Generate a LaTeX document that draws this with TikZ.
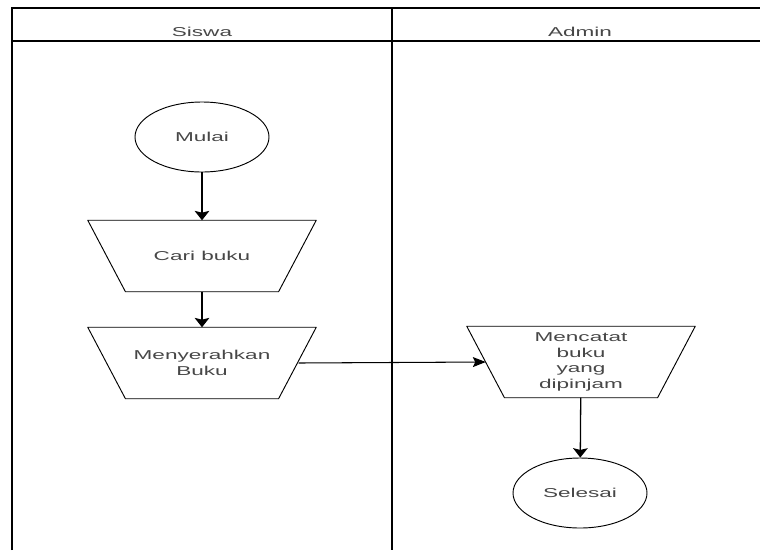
\documentclass[tikz,border=0pt]{standalone}
\usepackage{fontspec}
\setmainfont{Liberation Sans}[FakeStretch=1.75]
\usetikzlibrary{shapes.geometric,arrows.meta,positioning}

\begin{document}
\begin{tikzpicture}[
    x=0.03cm, y=-0.03cm,
    font=\fontsize{11}{13.2}\selectfont,
    lane/.style={line width=1pt, black},
    terminal/.style={ellipse, draw, line width=0.8pt, minimum width=4.02cm, minimum height=2.1cm, text=black!72, inner sep=0pt},
    proses/.style={rectangle, minimum width=6.84cm, minimum height=2.13cm, inner sep=0pt, align=center, text=black!72},
    outline/.style={line width=0.8pt, line join=round},
    arrowV/.style={-{Stealth[length=8pt, width=12.5pt, inset=1.5pt]}, line width=1.1pt},
    arrowH/.style={-{Stealth[length=11pt, width=8.5pt, inset=2pt]}, line width=0.9pt},
    laneText/.style={text=black!72}
]
    \useasboundingbox (0,0) rectangle (760,550);

    % swimlane frame
    \draw[lane] (12,550) -- (12,8) -- (760,8);
    \draw[lane] (12,41) -- (760,41);
    \draw[lane] (392,8) -- (392,550);
    \node[laneText] (siswa) at (202,32) {Siswa};
    \node[laneText] (admin) at (580,32) {Admin};

    % flow nodes
    \node[terminal] (mulai) at (202,137) {Mulai};
    \node[proses] (cari) at (202,256) {Cari buku};
    \node[proses] (serah) at (202,363) {Menyerahkan\\Buku};
    \node[proses] (catat) at (581,362) {Mencatat\\buku\\yang\\dipinjam};
    \node[terminal] (selesai) at (580,493) {Selesai};

    % manual operation outlines
    \foreach \n in {cari,serah,catat}
        \draw[outline] (\n.north west) -- (\n.north east)
            -- ([xshift=-1.13cm]\n.south east) -- ([xshift=1.13cm]\n.south west) -- cycle;

    \draw[arrowV] (mulai) -- (cari);
    \draw[arrowV] (cari) -- (serah);
    \draw[arrowH] ([xshift=-0.53cm]serah.east) -- ([xshift=0.57cm]catat.west);
    \draw[arrowV] (catat) -- (selesai);
\end{tikzpicture}
\end{document}
